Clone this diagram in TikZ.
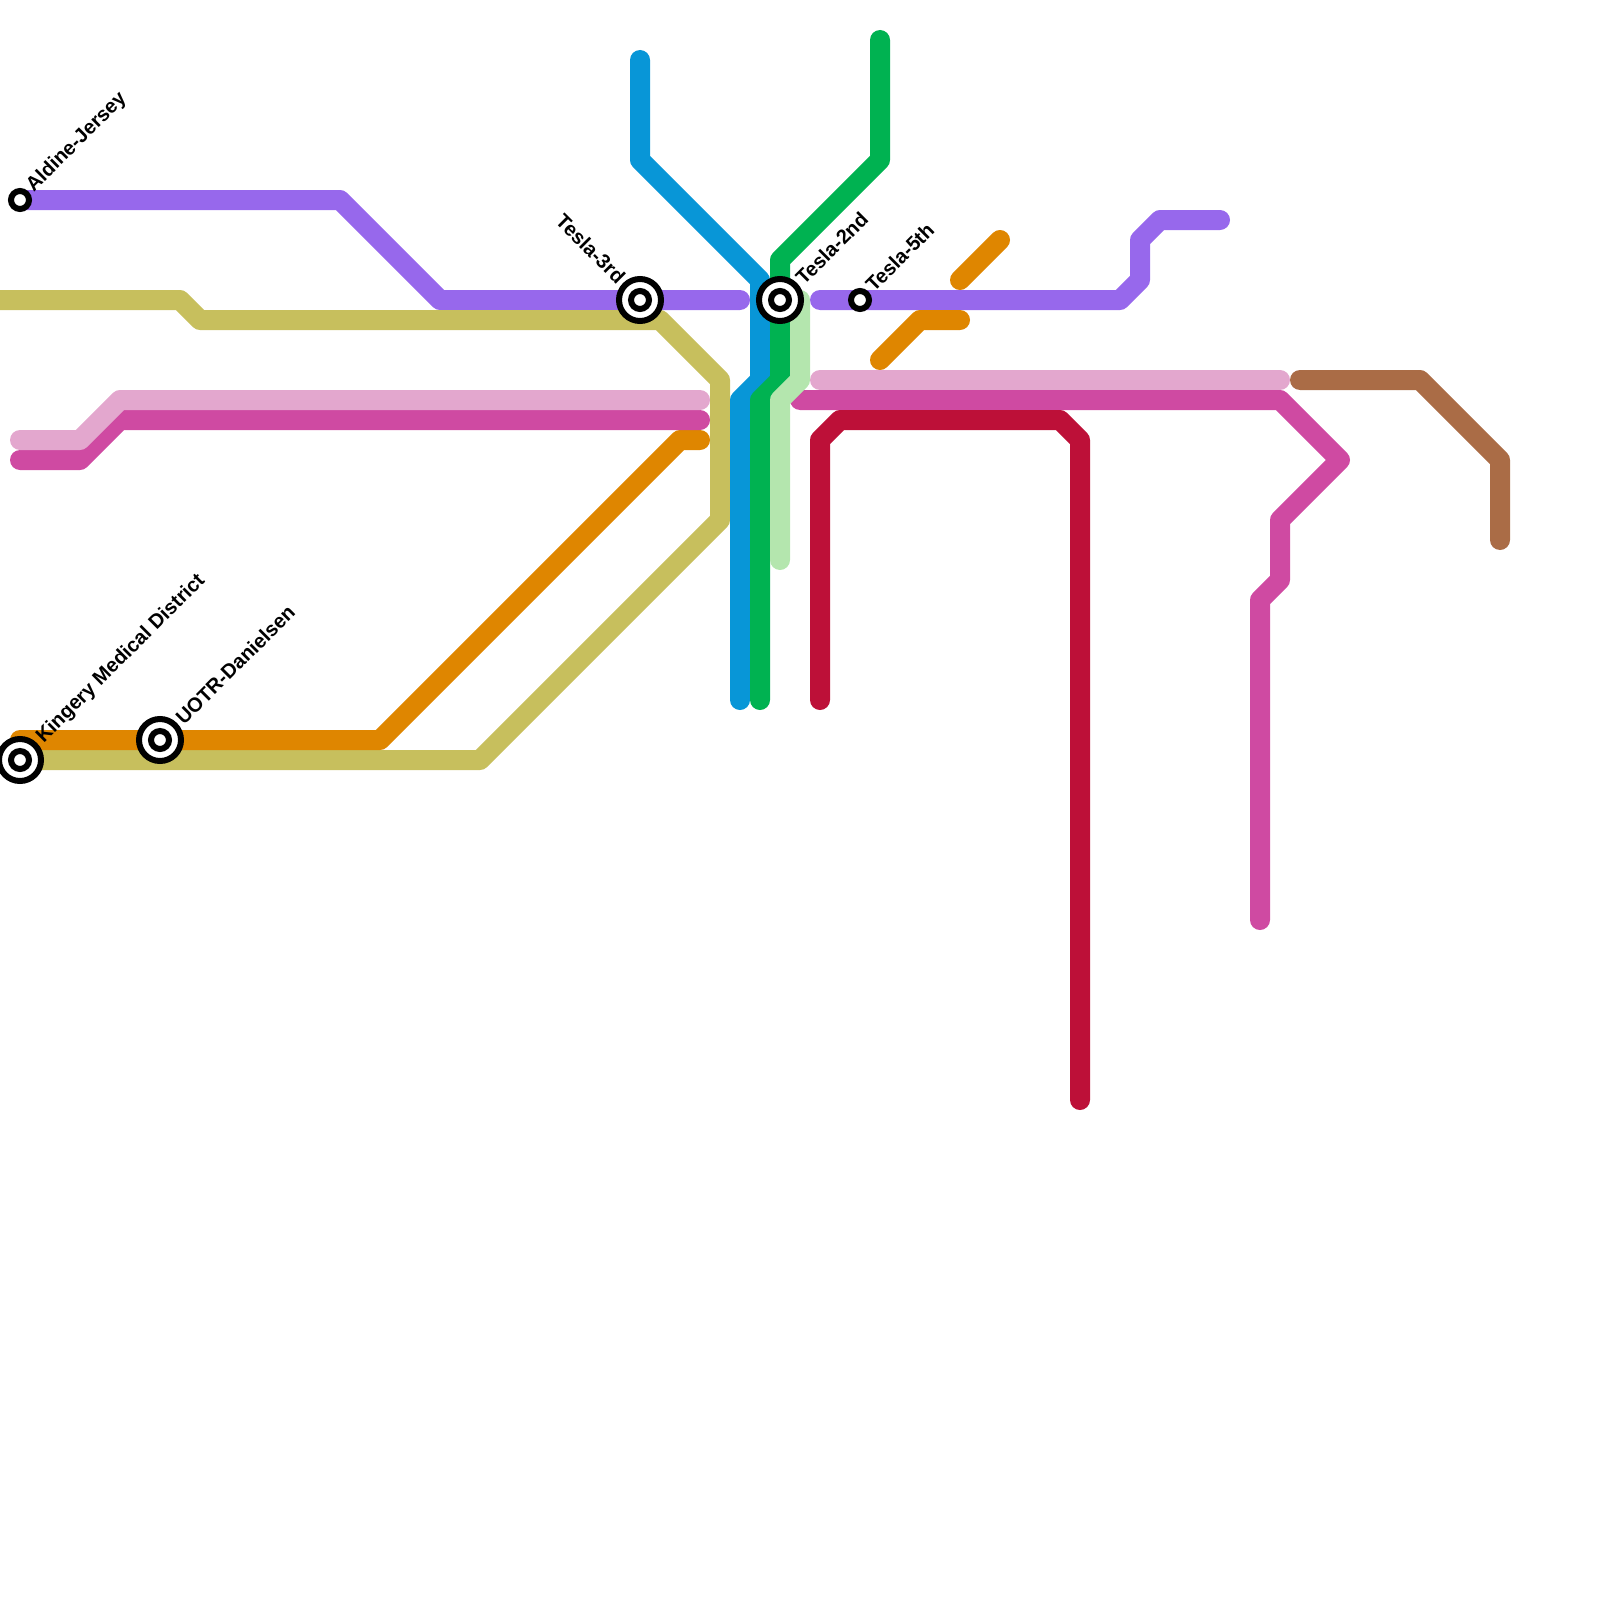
\documentclass[tikz,border=0pt]{standalone}
\usepackage{fontspec}
\setmainfont{Liberation Sans}[Ligatures=TeX]
\definecolor{cpurple}{HTML}{9768EC}
\definecolor{colive}{HTML}{C7BF5D}
\definecolor{corange}{HTML}{DF8600}
\definecolor{clpink}{HTML}{E3A7CE}
\definecolor{cpink}{HTML}{CF4AA2}
\definecolor{cred}{HTML}{BD1038}
\definecolor{cblue}{HTML}{0896D7}
\definecolor{cgreen}{HTML}{00B251}
\definecolor{clgreen}{HTML}{B4E6AE}
\definecolor{cbrown}{HTML}{AA6C46}
\tikzset{
  route/.style={draw=#1,line width=20pt,line cap=round,line join=round},
  smallstn/.style={circle,draw=black,fill=white,line width=6pt,minimum size=18pt,inner sep=0pt},
  bigstn/.style={circle,draw=black,fill=white,line width=6pt,minimum size=42pt,inner sep=0pt},
  stnlabel/.style={font=\fontsize{20.1}{20.1}\selectfont\bfseries,text=black,inner sep=0pt}
}
\begin{document}
\begin{tikzpicture}[x=1pt,y=-1pt]
\useasboundingbox (0,0) rectangle (1600,1600);
% routes
\path[route=cpurple] (20,200) -- (340,200) -- (440,300) -- (740,300);
\path[route=cpurple] (820,300) -- (1120,300) -- (1140,280) -- (1140,240) -- (1160,220) -- (1220,220);
\path[route=colive] (0,300) -- (180,300) -- (200,320) -- (660,320) -- (720,380) -- (720,520) -- (480,760) -- (20,760);
\path[route=corange] (20,740) -- (380,740) -- (680,440) -- (700,440);
\path[route=corange] (880,360) -- (920,320) -- (960,320);
\path[route=corange] (960,280) -- (1000,240);
\path[route=cpink] (20,460) -- (80,460) -- (120,420) -- (700,420);
\path[route=clpink] (20,440) -- (80,440) -- (120,400) -- (700,400);
\path[route=cpink] (800,400) -- (1280,400) -- (1340,460) -- (1280,520) -- (1280,580) -- (1260,600) -- (1260,920);
\path[route=clpink] (820,380) -- (1280,380);
\path[route=cblue] (640,60) -- (640,160) -- (760,280) -- (760,380) -- (740,400) -- (740,700);
\path[route=cgreen] (880,40) -- (880,160) -- (780,260) -- (780,380) -- (760,400) -- (760,700);
\path[route=clgreen] (800,300) -- (800,380) -- (780,400) -- (780,560);
\path[route=cred] (820,700) -- (820,440) -- (840,420) -- (1060,420) -- (1080,440) -- (1080,1100);
\path[route=cbrown] (1300,380) -- (1420,380) -- (1500,460) -- (1500,540);
% stations
\node[smallstn] (aldine) at (20,200) {};
\node[smallstn] (fifth) at (860,300) {};
\node[bigstn] (third) at (640,300) {};
\node[smallstn] at (third.center) {};
\node[bigstn] (second) at (780,300) {};
\node[smallstn] at (second.center) {};
\node[bigstn] (kingery) at (20,760) {};
\node[smallstn] at (kingery.center) {};
\node[bigstn] (uotr) at (160,740) {};
\node[smallstn] at (uotr.center) {};
% labels
\node[stnlabel,rotate=45,anchor=west] (laldine) at (30,189) {Aldine-Jersey};
\node[stnlabel,rotate=45,anchor=west] (lfifth) at (869,288) {Tesla-5th};
\node[stnlabel,rotate=45,anchor=west] (lsecond) at (799,281) {Tesla-2nd};
\node[stnlabel,rotate=-45,anchor=east] (lthird) at (622,280) {Tesla-3rd};
\node[stnlabel,rotate=45,anchor=west] (lkingery) at (40,740) {Kingery Medical District};
\node[stnlabel,rotate=45,anchor=west] (luotr) at (179,721) {UOTR-Danielsen};
\end{tikzpicture}
\end{document}
